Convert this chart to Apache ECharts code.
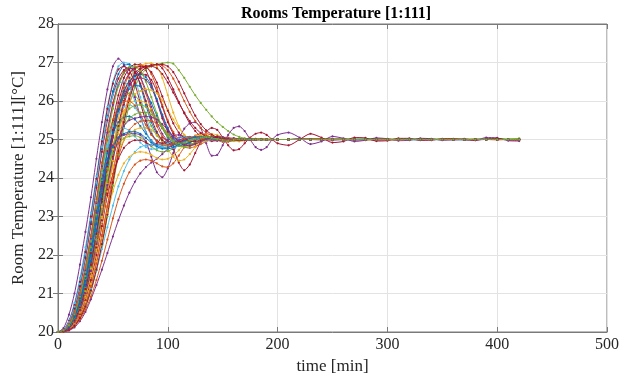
<!DOCTYPE html>
<html>
<head>
<meta charset="utf-8">
<script src="https://cdn.jsdelivr.net/npm/echarts@6/dist/echarts.min.js"></script>
<style>html,body{margin:0;padding:0;background:#fff}#chart{width:632px;height:382px}</style>
</head>
<body>
<div id="chart"></div>
<script>
const chartTitle = 'Rooms Temperature [1:111]';
const xName = 'time [min]';
const yName = 'Room Temperature [1:111][°C]';
const xTicks = [0, 100, 200, 300, 400, 500];
const yTicks = [20, 21, 22, 23, 24, 25, 26, 27, 28];

const timeMin = [0,5,10,15,20,25,30,35,40,45,50,55,60,65,70,75,80,85,90,95,100,105,110,115,120,125,130,135,140,145,150,155,160,165,170,175,180,185,190,195,200,210,220,230,240,250,260,270,280,290,300,310,320,330,340,350,360,370,380,390,400,410,420];

const room01 = [20.00,20.10,20.45,21.00,21.75,22.60,23.50,24.50,25.45,26.30,
26.90,27.10,26.95,26.60,26.10,25.60,25.20,24.95,24.85,24.90,
25.00,25.10,25.12,25.08,25.00,24.95,24.95,24.98,25.02,25.04,
25.03,25.00,24.98,24.98,25.00,25.01,25.01,25.00,25.00,24.99,
25.00,
25.00,25.01,25.00,24.99,25.00,25.00,25.01,25.00,25.00,24.99,25.00,25.00,25.00,25.01,25.00,25.00,25.00,24.99,25.00,25.00,25.00,25.00];
const room02 = [20.00,20.05,20.30,20.75,21.40,22.20,23.10,24.05,25.00,25.85,
26.50,26.90,27.00,26.95,26.60,26.10,25.60,25.20,24.95,24.85,
24.88,24.95,25.03,25.07,25.06,25.02,24.99,24.98,24.99,25.00,
25.01,25.01,25.00,25.00,24.99,25.00,25.00,25.00,25.00,25.00,
25.00,
25.00,25.00,25.01,25.00,25.00,25.00,24.99,25.00,25.00,25.00,25.01,25.00,25.00,25.00,25.00,24.99,25.00,25.00,25.00,25.00,25.01,25.00];
const room03 = [20.00,20.04,20.22,20.60,21.20,21.95,22.85,23.80,24.75,25.60,
26.25,26.70,26.92,26.95,26.80,26.40,25.90,25.45,25.15,24.98,
24.92,24.93,24.98,25.03,25.06,25.05,25.02,25.00,24.99,24.99,
25.00,25.00,25.01,25.00,25.00,25.00,25.00,24.99,25.00,25.00,
25.00,
25.00,25.00,25.00,25.01,25.00,25.00,25.00,25.00,24.99,25.00,25.00,25.00,25.00,25.00,25.01,25.00,25.00,25.00,25.00,25.00,25.00,25.00];
const room04 = [20.00,20.03,20.15,20.40,20.80,21.35,22.05,22.90,23.80,24.70,
25.50,26.15,26.60,26.85,26.95,26.95,26.80,26.45,26.00,25.55,
25.20,24.95,24.85,24.87,24.93,25.00,25.05,25.07,25.05,25.02,
25.00,24.99,24.98,24.99,25.00,25.00,25.01,25.00,25.00,25.00,
25.00,
25.00,25.01,25.00,25.00,24.99,25.00,25.00,25.00,25.01,25.00,25.00,25.00,24.99,25.00,25.00,25.00,25.00,25.00,25.00,25.01,25.00,25.00];
const room05 = [20.00,20.02,20.10,20.30,20.65,21.10,21.70,22.45,23.30,24.20,
25.05,25.80,26.35,26.70,26.88,26.92,26.90,26.70,26.35,25.90,
25.50,25.20,25.00,24.90,24.88,24.92,24.97,25.02,25.04,25.04,
25.02,25.00,24.99,24.99,25.00,25.00,25.00,25.01,25.00,25.00,
25.00,
25.00,25.00,25.00,25.00,25.01,25.00,25.00,24.99,25.00,25.00,25.00,25.00,25.00,25.00,25.00,25.01,25.00,25.00,25.00,24.99,25.00,25.00];
const room06 = [20.00,20.02,20.08,20.22,20.50,20.90,21.45,22.15,22.95,23.85,
24.75,25.55,26.15,26.55,26.80,26.92,26.97,26.98,26.90,26.60,
26.15,25.70,25.35,25.12,25.00,24.95,24.95,24.98,25.02,25.04,
25.04,25.02,25.00,24.99,24.99,25.00,25.00,25.00,25.00,25.00,
25.00,
25.00,25.00,25.01,25.00,25.00,25.00,25.00,25.00,25.00,24.99,25.00,25.00,25.00,25.00,25.00,25.00,25.01,25.00,25.00,25.00,25.00,25.00];
const room07 = [20.00,20.01,20.07,20.20,20.45,20.82,21.35,22.00,22.75,23.60,
24.45,25.25,25.90,26.35,26.65,26.82,26.90,26.93,26.95,26.85,
26.60,26.30,25.98,25.68,25.42,25.22,25.08,25.00,24.97,24.98,
25.01,25.03,25.03,25.02,25.00,24.99,24.99,25.00,25.00,25.00,
25.00,
25.00,25.00,25.00,25.00,25.00,25.01,25.00,25.00,25.00,25.00,24.99,25.00,25.00,25.00,25.00,25.00,25.00,25.00,25.01,25.00,25.00,25.00];
const room08 = [20.00,20.01,20.05,20.15,20.35,20.65,21.05,21.60,22.25,23.00,
23.80,24.60,25.30,25.90,26.35,26.65,26.82,26.90,26.95,26.98,
27.00,26.97,26.80,26.60,26.37,26.15,25.95,25.77,25.60,25.45,
25.33,25.22,25.13,25.07,25.03,25.01,25.00,24.99,24.99,25.00,
25.00,
25.00,25.00,25.00,25.00,25.00,25.00,25.00,25.01,25.00,25.00,25.00,25.00,25.00,25.00,25.00,25.00,25.00,25.00,25.00,25.00,25.01,25.02];
const room09 = [20.00,20.02,20.12,20.35,20.72,21.22,21.85,22.60,23.45,24.30,
25.05,25.70,26.15,26.42,26.55,26.60,26.55,26.35,26.00,25.60,
25.25,25.02,24.92,24.92,24.97,25.03,25.07,25.07,25.04,25.00,
24.97,24.97,24.99,25.01,25.02,25.01,25.00,25.00,24.99,25.00,
25.00,
25.00,25.01,25.00,25.00,24.99,25.00,25.00,25.00,25.00,25.01,25.00,25.00,25.00,25.00,25.00,25.00,25.00,25.00,25.00,25.00,25.00,25.00];
const room10 = [20.00,20.03,20.15,20.42,20.85,21.45,22.20,23.05,23.95,24.75,
25.40,25.85,26.10,26.20,26.15,25.95,25.65,25.35,25.10,24.95,
24.88,24.88,24.93,24.99,25.04,25.06,25.05,25.02,25.00,24.99,
24.99,25.00,25.00,25.01,25.00,25.00,25.00,25.00,25.00,25.00,
25.00,
25.00,25.00,25.00,25.00,25.01,25.00,25.00,25.00,25.00,25.00,24.99,25.00,25.00,25.00,25.00,25.00,25.00,25.01,25.00,25.00,25.00,25.00];
const room11 = [20.00,20.03,20.18,20.48,20.95,21.60,22.40,23.30,24.15,24.85,
25.35,25.68,25.85,25.90,25.82,25.62,25.38,25.15,24.98,24.88,
24.85,24.88,24.94,25.00,25.04,25.05,25.03,25.01,24.99,24.99,
25.00,25.00,25.00,25.01,25.00,25.00,25.00,25.00,25.00,25.00,
25.00,
25.00,25.00,25.01,25.00,25.00,25.00,25.00,25.00,25.00,25.00,25.00,24.99,25.00,25.00,25.00,25.00,25.00,25.00,25.00,25.00,25.00,25.00];
const room12 = [20.00,20.02,20.10,20.28,20.60,21.05,21.65,22.40,23.25,24.10,
24.85,25.40,25.75,25.92,26.00,26.00,25.95,25.80,25.55,25.28,
25.05,24.90,24.83,24.85,24.92,25.00,25.05,25.07,25.05,25.02,
25.00,24.98,24.98,24.99,25.00,25.01,25.01,25.00,25.00,25.00,
25.00,
25.00,25.00,25.00,25.01,25.00,25.00,25.00,24.99,25.00,25.00,25.00,25.00,25.00,25.00,25.01,25.00,25.00,25.00,25.00,25.00,25.00,25.00];
const room13 = [20.00,20.03,20.16,20.45,20.90,21.52,22.30,23.15,23.98,24.65,
25.15,25.45,25.58,25.60,25.52,25.35,25.15,24.98,24.86,24.80,
24.80,24.85,24.92,24.99,25.04,25.06,25.05,25.03,25.00,24.98,
24.98,24.99,25.00,25.01,25.01,25.00,25.00,25.00,25.00,25.00,
25.00,
25.00,25.00,25.00,25.00,25.00,25.01,25.00,25.00,25.00,25.00,25.00,25.00,24.99,25.00,25.00,25.00,25.00,25.00,25.00,25.00,25.00,25.00];
const room14 = [20.00,20.01,20.06,20.18,20.40,20.75,21.22,21.82,22.52,23.25,
23.95,24.55,24.98,25.25,25.40,25.47,25.50,25.48,25.42,25.30,
25.15,25.00,24.88,24.80,24.78,24.82,24.88,24.95,25.01,25.05,
25.06,25.05,25.02,25.00,24.98,24.98,24.99,25.00,25.01,25.00,
25.00,
25.00,25.00,25.00,25.01,25.00,25.00,24.99,25.00,25.00,25.00,25.00,25.00,25.00,25.00,25.00,25.01,25.00,25.00,25.00,25.00,25.00,25.00];
const room15 = [20.00,20.02,20.10,20.30,20.62,21.10,21.72,22.50,23.38,24.28,
25.10,25.78,26.25,26.52,26.65,26.70,26.68,26.55,26.25,25.85,
25.45,25.15,24.95,24.85,24.85,24.90,24.97,25.03,25.06,25.06,
25.03,25.00,24.98,24.98,24.99,25.00,25.01,25.01,25.00,25.00,
25.00,
25.00,25.00,25.01,25.00,25.00,25.00,25.00,25.00,24.99,25.00,25.00,25.00,25.00,25.00,25.00,25.00,25.00,25.01,25.00,25.00,25.00,25.00];
const room16 = [20.00,20.04,20.20,20.52,21.02,21.70,22.52,23.40,24.20,24.82,
25.15,25.28,25.30,25.22,25.08,24.92,24.80,24.75,24.76,24.82,
24.90,24.98,25.04,25.07,25.07,25.05,25.02,24.99,24.98,24.98,
24.99,25.00,25.01,25.01,25.00,25.00,25.00,25.00,25.00,25.00,
25.00,
25.00,25.00,25.00,25.00,25.00,25.00,25.01,25.00,25.00,25.00,25.00,25.00,25.00,25.00,24.99,25.00,25.00,25.00,25.00,25.00,25.00,25.00];
const room17 = [20.00,20.02,20.12,20.38,20.80,21.38,22.10,22.90,23.65,24.25,
24.65,24.90,25.03,25.08,25.10,25.05,24.95,24.82,24.72,24.68,
24.70,24.76,24.85,24.94,25.02,25.07,25.09,25.08,25.05,25.01,
24.98,24.97,24.98,25.00,25.01,25.02,25.01,25.00,25.00,25.00,
25.00,
25.00,25.00,25.00,25.00,25.00,25.00,25.00,25.00,25.00,25.00,25.00,25.00,25.00,25.01,25.00,25.00,25.00,25.00,25.00,25.00,25.00,25.00];
const room18 = [20.00,20.02,20.14,20.42,20.88,21.50,22.28,23.10,23.85,24.45,
24.85,25.05,25.12,25.15,25.15,25.12,24.95,24.55,24.15,24.02,
24.25,24.65,25.00,25.28,25.42,25.45,25.30,24.90,24.58,24.60,
24.85,25.12,25.30,25.34,25.22,25.00,24.80,24.73,24.80,25.00,
25.12,
25.18,25.05,24.88,24.95,25.08,25.03,24.95,24.98,25.04,25.02,24.97,24.98,25.03,25.02,24.98,25.00,25.02,24.98,25.05,25.04,24.97,24.96];
const room19 = [20.00,20.02,20.10,20.28,20.58,21.00,21.55,22.20,22.90,23.55,
24.10,24.50,24.78,24.92,24.98,24.98,24.92,24.85,24.90,25.05,
24.95,24.75,24.40,24.20,24.35,24.65,24.95,25.20,25.30,25.25,
25.05,24.85,24.72,24.75,24.90,25.05,25.15,25.18,25.12,25.00,
24.90,
24.85,25.00,25.15,25.05,24.92,24.95,25.05,25.04,24.96,24.97,25.03,25.03,24.98,24.98,25.02,25.02,24.99,24.98,25.02,25.03,24.99,24.98];
const room20 = [20.00,20.01,20.04,20.12,20.28,20.52,20.85,21.22,21.62,22.05,
22.48,22.90,23.28,23.62,23.90,24.12,24.28,24.40,24.50,24.62,
24.76,24.90,24.98,25.03,25.05,25.04,25.01,24.98,24.96,24.97,
25.00,25.02,25.03,25.02,25.00,24.99,24.99,25.00,25.00,25.01,
25.00,
25.00,25.00,25.00,25.00,25.01,25.00,25.00,25.00,25.00,25.00,25.00,25.00,25.00,25.00,25.00,24.99,25.00,25.00,25.00,25.00,25.00,25.00];
const room21 = [20.00,20.01,20.05,20.15,20.32,20.58,20.92,21.35,21.85,22.40,
22.95,23.45,23.85,24.15,24.35,24.45,24.48,24.45,24.38,24.30,
24.28,24.38,24.58,24.80,24.98,25.10,25.15,25.12,25.05,24.98,
24.94,24.94,24.97,25.00,25.02,25.03,25.02,25.00,24.99,24.99,
25.00,
25.00,25.00,25.00,25.01,25.00,25.00,25.00,25.00,25.00,25.00,25.00,25.00,25.00,25.00,25.00,25.00,25.00,25.00,25.00,25.00,25.00,25.01];
const room22 = [20.00,20.01,20.06,20.18,20.40,20.72,21.12,21.60,22.15,22.72,
23.28,23.78,24.18,24.48,24.68,24.80,24.85,24.85,24.82,24.78,
24.76,24.78,24.84,24.92,25.00,25.05,25.07,25.06,25.03,25.00,
24.98,24.98,24.99,25.00,25.01,25.01,25.00,25.00,25.00,25.00,
25.00,
25.00,25.00,25.00,25.00,25.00,24.99,25.00,25.00,25.00,25.00,25.00,25.00,25.00,25.00,25.00,25.00,25.00,25.00,25.01,25.00,25.00,25.00];
const room23 = [20.00,20.02,20.09,20.26,20.55,20.98,21.55,22.25,23.00,23.70,
24.28,24.70,24.98,25.15,25.25,25.30,25.30,25.25,25.12,24.95,
24.75,24.55,24.45,24.48,24.62,24.80,24.98,25.10,25.14,25.12,
25.06,25.00,24.96,24.95,24.97,25.00,25.02,25.02,25.01,25.00,
25.00,
25.00,25.00,25.01,25.00,25.00,25.00,25.00,25.00,25.00,25.00,24.99,25.00,25.00,25.00,25.00,25.00,25.00,25.00,25.00,25.00,25.00,25.00];
const room24 = [20.00,20.03,20.14,20.38,20.78,21.32,22.00,22.80,23.65,24.48,
25.20,25.75,26.12,26.32,26.40,26.38,26.22,25.95,25.62,25.30,
25.05,24.90,24.84,24.86,24.92,24.99,25.04,25.06,25.05,25.02,
25.00,24.99,24.99,25.00,25.00,25.01,25.00,25.00,25.00,25.00,
25.00,
25.00,25.00,25.00,25.00,25.00,25.00,25.00,25.01,25.00,25.00,25.00,25.00,25.00,25.00,25.00,25.00,24.99,25.00,25.00,25.00,25.00,25.00];
const room25 = [20.00,20.04,20.20,20.52,21.02,21.70,22.52,23.45,24.40,25.25,
25.95,26.45,26.75,26.85,26.82,26.60,26.20,25.75,25.35,25.08,
24.93,24.88,24.90,24.96,25.02,25.06,25.06,25.03,25.00,24.98,
24.98,24.99,25.00,25.01,25.01,25.00,25.00,25.00,25.00,25.00,
25.00,
25.00,25.00,25.00,25.00,25.00,25.00,25.00,25.00,25.00,25.01,25.00,25.00,25.00,25.00,25.00,25.00,25.00,25.00,25.00,25.00,25.00,25.00];
const room26 = [20.00,20.05,20.25,20.62,21.18,21.92,22.80,23.75,24.68,25.50,
26.15,26.58,26.80,26.87,26.75,26.45,26.00,25.55,25.20,24.98,
24.88,24.88,24.93,25.00,25.05,25.07,25.05,25.02,24.99,24.98,
24.98,24.99,25.00,25.01,25.01,25.00,25.00,25.00,25.00,25.00,
25.00,
25.00,25.00,25.00,25.01,25.00,25.00,25.00,25.00,25.00,25.00,25.00,25.00,25.00,25.00,25.00,25.00,25.00,25.00,25.00,25.00,25.00,25.00];
const room27 = [20.00,20.02,20.10,20.30,20.62,21.08,21.68,22.40,23.18,23.92,
24.55,25.02,25.35,25.55,25.65,25.70,25.70,25.65,25.52,25.35,
25.15,24.98,24.85,24.80,24.82,24.88,24.96,25.03,25.07,25.07,
25.05,25.02,24.99,24.98,24.98,24.99,25.00,25.01,25.01,25.00,
25.00,
25.00,25.00,25.00,25.00,25.00,25.00,25.00,25.00,25.00,25.00,25.00,25.00,25.00,25.00,25.00,25.00,25.00,25.00,25.00,25.00,25.00,25.03];
const room28 = [20.00,20.01,20.07,20.20,20.42,20.78,21.25,21.82,22.45,23.08,
23.65,24.08,24.38,24.55,24.65,24.68,24.66,24.60,24.52,24.48,
24.50,24.58,24.72,24.88,25.00,25.08,25.10,25.08,25.03,24.99,
24.97,24.97,24.99,25.01,25.02,25.01,25.00,25.00,25.00,25.00,
25.00,
25.00,25.00,25.00,25.00,25.00,25.00,25.00,25.00,25.00,25.00,25.00,25.00,25.00,25.00,25.00,25.00,25.00,25.00,25.00,25.00,25.00,25.00];
const room29 = [20.00,20.02,20.08,20.24,20.52,20.92,21.45,22.10,22.85,23.70,
24.55,25.35,26.00,26.45,26.72,26.85,26.90,26.90,26.85,26.70,
26.48,26.22,25.95,25.70,25.48,25.30,25.17,25.08,25.03,25.00,
24.98,24.98,24.99,25.00,25.01,25.01,25.00,25.00,25.00,25.00,
25.00,
25.00,25.00,25.01,25.00,25.00,25.00,25.00,25.00,25.00,25.00,25.00,25.00,25.01,25.00,25.00,25.00,25.00,25.00,25.00,25.00,25.00,25.00];
const room30 = [20.00,20.01,20.06,20.18,20.40,20.72,21.18,21.78,22.48,23.28,
24.10,24.90,25.60,26.15,26.52,26.75,26.87,26.92,26.95,26.92,
26.80,26.58,26.30,26.00,25.72,25.48,25.30,25.18,25.10,25.05,
25.02,25.00,24.99,24.99,25.00,25.00,25.01,25.00,25.00,25.00,
25.00,
25.00,25.00,25.00,25.00,25.00,25.01,25.00,25.00,25.00,25.00,25.00,25.00,25.00,25.00,25.00,25.00,25.00,25.00,25.00,25.00,25.00,25.00];
const room31 = [20.00,20.05,20.28,20.70,21.30,22.08,23.00,23.98,24.95,25.80,
26.45,26.82,26.90,26.80,26.45,25.95,25.48,25.15,24.97,24.90,
24.92,24.98,25.04,25.07,25.06,25.03,25.00,24.98,24.98,24.99,
25.00,25.01,25.01,25.00,25.00,25.00,25.00,25.00,25.00,25.00,
25.00,
25.00,25.00,25.00,25.00,25.00,25.00,25.00,25.00,25.01,25.00,25.00,25.00,25.00,25.00,25.00,25.00,25.00,25.00,25.00,25.00,25.00,25.00];
const room32 = [20.00,20.04,20.18,20.48,20.95,21.60,22.42,23.35,24.30,25.18,
25.90,26.42,26.72,26.85,26.82,26.62,26.28,25.85,25.45,25.15,
24.97,24.90,24.92,24.97,25.03,25.06,25.06,25.03,25.00,24.98,
24.98,24.99,25.00,25.01,25.00,25.00,25.00,25.00,25.00,25.00,
25.00,
25.00,25.01,25.00,25.00,25.00,25.00,24.99,25.00,25.00,25.00,25.00,25.00,25.00,25.00,25.00,25.00,25.00,25.00,25.00,25.00,25.00,25.00];
const room33 = [20.00,20.03,20.12,20.34,20.70,21.20,21.85,22.62,23.48,24.35,
25.15,25.80,26.25,26.52,26.65,26.70,26.62,26.40,26.05,25.65,
25.30,25.05,24.92,24.88,24.92,24.98,25.04,25.06,25.05,25.02,
25.00,24.98,24.99,25.00,25.00,25.01,25.00,25.00,25.00,25.00,
25.00,
25.00,25.00,25.00,25.00,25.00,25.00,25.00,25.00,25.00,25.00,25.00,25.01,25.00,25.00,25.00,25.00,25.00,25.00,25.00,25.00,25.00,25.00];
const room34 = [20.00,20.02,20.08,20.24,20.52,20.92,21.45,22.10,22.85,23.65,
24.45,25.15,25.68,26.00,26.18,26.26,26.30,26.28,26.20,26.02,
25.78,25.52,25.30,25.12,25.00,24.94,24.93,24.96,25.00,25.03,
25.04,25.03,25.01,25.00,24.99,24.99,25.00,25.00,25.00,25.00,
25.00,
25.00,25.00,25.00,25.00,25.00,25.00,25.00,25.00,25.00,25.00,25.00,25.00,25.00,25.00,25.00,25.00,25.00,25.00,25.00,25.00,25.00,25.00];
const room35 = [20.00,20.05,20.26,20.66,21.25,22.02,22.92,23.88,24.80,25.58,
26.15,26.45,26.50,26.35,26.00,25.58,25.20,24.95,24.84,24.84,
24.90,24.97,25.03,25.06,25.05,25.02,25.00,24.98,24.99,25.00,
25.00,25.01,25.00,25.00,25.00,25.00,25.00,25.00,25.00,25.00,
25.00,
25.00,25.00,25.00,25.00,25.00,25.00,25.00,25.00,25.00,25.00,25.00,25.00,25.00,25.00,25.00,25.00,25.00,25.00,25.00,25.00,25.00,25.00];
const room36 = [20.00,20.02,20.11,20.32,20.66,21.14,21.76,22.50,23.30,24.08,
24.78,25.30,25.62,25.80,25.88,25.90,25.85,25.72,25.52,25.30,
25.10,24.94,24.84,24.82,24.86,24.93,25.00,25.05,25.07,25.06,
25.03,25.00,24.98,24.98,24.99,25.00,25.01,25.00,25.00,25.00,
25.00,
25.00,25.00,25.00,25.00,25.00,25.00,25.00,25.00,25.00,25.00,25.00,25.00,25.00,25.00,25.00,25.00,25.00,25.00,25.00,25.00,25.01,25.00];
const room37 = [20.00,20.02,20.10,20.30,20.64,21.12,21.76,22.55,23.45,24.38,
25.25,25.95,26.45,26.72,26.85,26.90,26.88,26.75,26.48,26.12,
25.75,25.42,25.18,25.03,24.96,24.95,24.98,25.02,25.05,25.05,
25.03,25.01,24.99,24.99,25.00,25.00,25.00,25.00,25.00,25.00,
25.00,
25.00,25.00,25.00,25.00,25.00,25.00,25.00,25.00,25.00,25.00,25.00,25.00,25.00,25.00,25.00,25.00,25.00,25.00,25.00,25.00,25.00,25.00];
const room38 = [20.00,20.04,20.20,20.52,21.00,21.66,22.48,23.38,24.25,24.98,
25.52,25.85,25.98,26.00,25.88,25.65,25.38,25.12,24.95,24.86,
24.85,24.89,24.96,25.02,25.05,25.05,25.03,25.00,24.99,24.99,
25.00,25.00,25.01,25.00,25.00,25.00,25.00,25.00,25.00,25.00,
25.00,
25.00,25.00,25.00,25.00,25.00,25.00,25.00,25.00,25.00,25.00,25.00,25.00,25.00,25.00,25.00,25.00,25.00,25.00,25.00,25.00,25.00,25.00];
const room39 = [20.00,20.02,20.09,20.26,20.56,21.00,21.58,22.28,23.05,23.82,
24.50,25.02,25.35,25.50,25.55,25.58,25.60,25.58,25.52,25.40,
25.25,25.08,24.95,24.86,24.84,24.88,24.94,25.01,25.06,25.08,
25.06,25.03,25.00,24.98,24.98,24.99,25.00,25.01,25.00,25.00,
25.00,
25.00,25.00,25.00,25.00,25.00,25.00,25.00,25.00,25.00,25.00,25.00,25.00,25.00,25.00,25.00,25.00,25.00,25.00,25.00,25.00,25.00,25.00];
const room40 = [20.00,20.03,20.14,20.40,20.82,21.40,22.12,22.92,23.70,24.35,
24.80,25.05,25.15,25.20,25.20,25.15,25.04,24.92,24.82,24.76,
24.76,24.80,24.87,24.95,25.02,25.06,25.07,25.05,25.02,25.00,
24.98,24.98,24.99,25.00,25.01,25.01,25.00,25.00,25.00,25.00,
25.00,
25.00,25.00,25.00,25.00,25.00,25.00,25.00,25.00,25.00,25.00,25.00,25.00,25.00,25.00,25.00,25.00,25.00,25.00,25.00,25.00,25.00,25.00];
const room41 = [20.00,20.01,20.05,20.16,20.36,20.66,21.08,21.62,22.28,23.05,
23.88,24.70,25.45,26.05,26.48,26.74,26.86,26.92,26.95,26.95,
26.90,26.75,26.50,26.20,25.90,25.62,25.40,25.24,25.13,25.06,
25.02,25.00,24.99,24.99,25.00,25.00,25.00,25.00,25.00,25.00,
25.00,
25.00,25.00,25.00,25.00,25.00,25.00,25.00,25.00,25.00,25.00,25.00,25.00,25.00,25.00,25.00,25.00,25.00,25.00,25.00,25.00,25.00,25.00];
const room42 = [20.00,20.04,20.17,20.46,20.92,21.55,22.35,23.25,24.18,25.05,
25.80,26.38,26.72,26.88,26.90,26.78,26.50,26.10,25.68,25.32,
25.08,24.95,24.90,24.92,24.97,25.02,25.05,25.06,25.04,25.01,
24.99,24.98,24.99,25.00,25.01,25.00,25.00,25.00,25.00,25.00,
25.00,
25.00,25.00,25.00,25.00,25.00,25.00,25.00,25.00,25.00,25.00,25.00,25.00,25.00,25.00,25.00,25.00,25.00,25.00,25.00,25.00,25.00,25.00];

const rooms = [room01,room02,room03,room04,room05,room06,room07,room08,room09,room10,room11,room12,room13,room14,room15,room16,room17,room18,room19,room20,room21,room22,room23,room24,room25,room26,room27,room28,room29,room30,room31,room32,room33,room34,room35,room36,room37,room38,room39,room40,room41,room42];

// MATLAB default line colours
const C = {blue:'#0072BD', orange:'#D95319', yellow:'#EDB120', purple:'#7E2F8E', green:'#77AC30', cyan:'#4DBEEE', red:'#A2142F'};
const roomColors = [C.purple,C.cyan,C.blue,C.red,C.orange,C.yellow,C.red,C.green,C.purple,C.green,C.cyan,C.yellow,C.blue,C.orange,C.red,C.cyan,C.green,C.purple,C.red,C.purple,C.orange,C.cyan,C.yellow,C.blue,C.orange,C.red,C.green,C.yellow,
  C.red,C.orange,C.red,C.purple,C.blue,C.yellow,C.cyan,C.green,C.red,C.orange,C.purple,C.blue,C.red,C.green];

const FONT = '"Liberation Serif", "Times New Roman", serif';
const chart = echarts.init(document.getElementById('chart'), null, {renderer:'canvas'});

const series = rooms.map((vals, k) => ({
  type: 'line',
  name: 'Room ' + (k + 1),
  data: vals.slice(0, timeMin.length).map((v, i) => [timeMin[i], v]),
  showSymbol: true,
  showAllSymbol: true,
  symbol: 'circle',
  symbolSize: 2.2,
  lineStyle: {width: 1, color: roomColors[k % roomColors.length]},
  itemStyle: {color: roomColors[k % roomColors.length]},
  smooth: 0.25,
  silent: true
}));

const axisLbl = {fontFamily: FONT, fontSize: 16, color: '#262626'};
chart.setOption({
  animation: false,
  backgroundColor: '#fff',
  title: {text: chartTitle, left: 331, top: 1, textAlign: 'center',
    textStyle: {fontFamily: FONT, fontSize: 16, fontWeight: 'bold', color: '#000'}},
  grid: {left: 58, right: 25, top: 24, bottom: 50, show: true, borderColor: '#7a7a7a', borderWidth: 1, containLabel: false},
  xAxis: [{
    type: 'value', min: xTicks[0], max: xTicks[xTicks.length - 1], interval: 100,
    name: xName, nameLocation: 'middle', nameGap: 26,
    nameTextStyle: {fontFamily: FONT, fontSize: 17, color: '#262626'},
    axisLine: {show: true, lineStyle: {color: '#7a7a7a'}},
    axisTick: {show: true, inside: true, length: 5, lineStyle: {color: '#7a7a7a'}},
    axisLabel: Object.assign({margin: 5}, axisLbl),
    splitLine: {show: true, lineStyle: {color: '#e3e3e3', width: 1}}
  }, {
    type: 'value', position: 'top', min: xTicks[0], max: xTicks[xTicks.length - 1], interval: 100,
    axisLine: {show: true, lineStyle: {color: '#7a7a7a'}},
    axisTick: {show: true, inside: true, length: 5, lineStyle: {color: '#7a7a7a'}},
    axisLabel: {show: false}, splitLine: {show: false}
  }],
  yAxis: [{
    type: 'value', min: yTicks[0], max: yTicks[yTicks.length - 1], interval: 1,
    name: yName, nameLocation: 'middle', nameGap: 22, nameRotate: 90,
    nameTextStyle: {fontFamily: FONT, fontSize: 17, color: '#262626'},
    axisLine: {show: true, lineStyle: {color: '#7a7a7a'}},
    axisTick: {show: true, inside: true, length: 5, lineStyle: {color: '#7a7a7a'}},
    axisLabel: Object.assign({margin: 4}, axisLbl),
    splitLine: {show: true, lineStyle: {color: '#e3e3e3', width: 1}}
  }, {
    type: 'value', position: 'right', min: yTicks[0], max: yTicks[yTicks.length - 1], interval: 1,
    axisLine: {show: true, lineStyle: {color: '#7a7a7a'}},
    axisTick: {show: true, inside: true, length: 5, lineStyle: {color: '#7a7a7a'}},
    axisLabel: {show: false}, splitLine: {show: false}
  }],
  series: series
});
</script>
</body>
</html>
